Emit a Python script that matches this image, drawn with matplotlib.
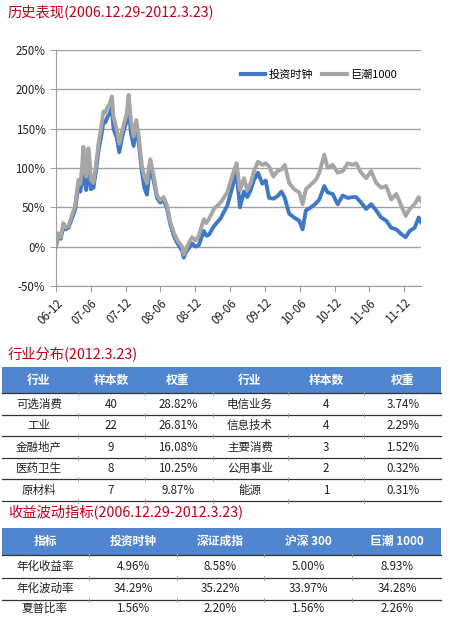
import matplotlib
matplotlib.use("Agg")
import matplotlib.pyplot as plt
from matplotlib.patches import Rectangle
from matplotlib.ticker import FuncFormatter

plt.rcParams['font.family'] = ['Noto Sans CJK SC', 'DejaVu Sans']

# ---- 历史表现 数据 (月份偏移, 自 2006.12.29 起) ----
months = [0, 0.4, 0.8, 1.27, 1.7, 2.13, 2.71, 3.29, 3.86, 4.2, 4.44, 4.73, 5.0, 5.19,
          5.59, 5.8, 6.0, 6.46, 6.92, 7.32, 7.9, 8.18, 8.5, 8.88, 9.2, 9.63, 9.91,
          10.49, 10.89, 11.36, 11.76, 12.2, 12.51, 12.91, 13.37, 13.83, 14.24, 14.81,
          15.22, 15.68, 16.0, 16.25, 16.83, 17.41, 17.98, 18.56, 19.14, 19.71, 20.29,
          20.87, 21.3, 21.73, 22.02, 22.31, 22.88, 23.46, 24.04, 24.61, 25.48, 25.9,
          26.34, 27.21, 28.36, 29.51, 30.37, 31.12, 31.7, 32.39, 32.96, 33.54, 34.12,
          34.81, 35.56, 36.13, 36.71, 37.46, 38.15, 38.84, 39.42, 40.18, 41.04, 41.91,
          42.49, 43.06, 43.93, 44.79, 45.37, 46.23, 46.81, 47.68, 48.54, 49.41, 50.27,
          51.14, 51.72, 52.58, 53.45, 54.31, 55.18, 56.04, 56.91, 57.77, 58.64, 59.5,
          60.25, 60.95, 61.81, 62.5, 62.9]

clock = [0, 14, 10, 25, 22, 24, 35, 47, 78, 70, 85, 110, 80, 72,
         105, 95, 73, 75, 98, 122, 145, 160, 158, 165, 168, 177, 150,
         138, 120, 138, 150, 160, 178, 145, 128, 150, 133, 95,
         75, 66, 88, 100, 84, 62, 56, 60, 48, 28, 14,
         5, 0, -5, -14, -8, -2, 4, 0, 2, 20, 14,
         15, 26, 36, 52, 75, 94, 50, 70, 63, 72, 85,
         94, 80, 84, 62, 61, 64, 70, 62, 42, 37, 33,
         22, 46, 50, 55, 60, 77, 69, 67, 54, 65, 62,
         63, 63, 56, 48, 54, 46, 37, 33, 24, 22, 16,
         12, 20, 24, 37, 31]

cninfo = [0, 17, 12, 30, 24, 26, 39, 52, 85, 80, 98, 127, 95, 89,
          125, 110, 85, 81, 106, 131, 157, 172, 170, 178, 180, 191, 165,
          148, 131, 146, 157, 170, 193, 161, 140, 161, 142, 102,
          89, 81, 100, 111, 90, 65, 59, 63, 52, 31, 18,
          9, 4, 0, -10, -5, 5, 12, 8, 14, 35, 30,
          35, 48, 56, 69, 90, 106, 72, 87, 72, 81, 96,
          108, 104, 106, 102, 89, 96, 98, 104, 81, 73, 69,
          54, 73, 79, 85, 94, 117, 100, 104, 94, 96, 106,
          104, 106, 94, 87, 96, 81, 75, 77, 60, 67, 52,
          39, 48, 54, 63, 58]

tick_pos = [0, 6, 12, 18, 24, 30, 36, 42, 48, 54, 60]
tick_labels = ['06-12', '07-06', '07-12', '08-06', '08-12', '09-06',
               '09-12', '10-06', '10-12', '11-06', '11-12']

# ---- 行业分布 ----
ind_left = ['可选消费', '工业', '金融地产', '医药卫生', '原材料']
cnt_left = [40, 22, 9, 8, 7]
wt_left = ['28.82%', '26.81%', '16.08%', '10.25%', '9.87%']
ind_right = ['电信业务', '信息技术', '主要消费', '公用事业', '能源']
cnt_right = [4, 4, 3, 2, 1]
wt_right = ['3.74%', '2.29%', '1.52%', '0.32%', '0.31%']
head1 = ['行业', '样本数', '权重', '行业', '样本数', '权重']

# ---- 收益波动指标 ----
head2 = ['指标', '投资时钟', '深证成指', '沪深 300', '巨潮 1000']
metrics = ['年化收益率', '年化波动率', '夏普比率']
v_clock = ['4.96%', '34.29%', '1.56%']
v_szcz = ['8.58%', '35.22%', '2.20%']
v_hs300 = ['5.00%', '33.97%', '1.56%']
v_jc1000 = ['8.93%', '34.28%', '2.26%']

BLUE = '#3F78C4'
GREY = '#A6A6A6'
RED = '#C0001A'
HEAD = '#4F86CF'
TXT = '#222222'
LINE = '#333333'

fig = plt.figure(figsize=(4.5, 6.17), dpi=100)

# ---- 折线图 ----
ax = fig.add_axes([56 / 450, 1 - 286 / 617, 365 / 450, 236 / 617])
ax.plot(months, clock, color=BLUE, lw=2.8, label='投资时钟', solid_joinstyle='round')
ax.plot(months, cninfo, color=GREY, lw=2.8, label='巨潮1000', solid_joinstyle='round')
ax.set_xlim(0, 62.9)
ax.set_ylim(-50, 250)
ax.set_yticks([-50, 0, 50, 100, 150, 200, 250])
ax.yaxis.set_major_formatter(FuncFormatter(lambda v, p: f'{v:.0f}%'))
ax.set_xticks(tick_pos)
ax.set_xticklabels(tick_labels, rotation=45, ha='right', rotation_mode='anchor')
ax.grid(axis='y', color='#A0A0A0', lw=1)
ax.set_axisbelow(True)
for s in ['top', 'right']:
    ax.spines[s].set_visible(False)
ax.spines['left'].set_color('#A0A0A0')
ax.spines['bottom'].set_color('#A0A0A0')
ax.tick_params(axis='both', colors='#A0A0A0', labelcolor=TXT, labelsize=8.3, length=4)
ax.legend(loc='center', bbox_to_anchor=(0.72, 0.894), ncol=2, frameon=False,
          fontsize=8, handlelength=2.2, columnspacing=0.8, handletextpad=0.3)
for line in ax.get_legend().get_lines():
    line.set_linewidth(3)

# ---- 表格与标题 ----
ov = fig.add_axes([0, 0, 1, 1])
ov.set_xlim(0, 450)
ov.set_ylim(617, 0)
ov.axis('off')

ov.text(8, 12, '历史表现(2006.12.29-2012.3.23)', color=RED, fontsize=10.3, va='center')
ov.text(8, 355, '行业分布(2012.3.23)', color=RED, fontsize=10.3, va='center')
ov.text(8, 513, '收益波动指标(2006.12.29-2012.3.23)', color=RED, fontsize=10.3, va='center')


def hline(y, bounds):
    ov.plot([2, 441], [y, y], color=LINE, lw=0.9)
    for b in bounds:
        ov.plot([b, b], [y - 2, y + 2], color='#9A9A9A', lw=0.6)


# 表 1
x1 = [39, 111, 178, 250, 326, 403]
b1 = [78, 145, 213, 288, 364]
ov.add_patch(Rectangle((2, 366.7), 439, 26.6, color=HEAD, lw=0))
for x, h in zip(x1, head1):
    ov.text(x, 380, h, color='white', fontsize=8.5, weight='bold', ha='center', va='center')
row_top = 393.3
row_h = 21.5
hline(row_top, b1)
for i in range(len(ind_left)):
    yc = row_top + row_h * (i + 0.5)
    cells = [ind_left[i], str(cnt_left[i]), wt_left[i],
             ind_right[i], str(cnt_right[i]), wt_right[i]]
    for x, c in zip(x1, cells):
        ov.text(x, yc, c, color=TXT, fontsize=8.3, weight='medium', ha='center', va='center')
    hline(row_top + row_h * (i + 1), b1)

# 表 2
x2 = [45, 133, 220, 308, 397]
b2 = [89, 177, 264, 352]
ov.add_patch(Rectangle((2, 528), 439, 27, color=HEAD, lw=0))
for x, h in zip(x2, head2):
    ov.text(x, 541.5, h, color='white', fontsize=8.5, weight='bold', ha='center', va='center')
row_top2 = 555
row_h2 = 22.5
hline(row_top2, b2)
for i in range(len(metrics)):
    yc = row_top2 + row_h2 * (i + 0.5)
    if i == 2:
        yc = 608
    cells = [metrics[i], v_clock[i], v_szcz[i], v_hs300[i], v_jc1000[i]]
    for x, c in zip(x2, cells):
        ov.text(x, yc, c, color=TXT, fontsize=8.3, weight='medium', ha='center', va='center')
    if i < 2:
        hline(row_top2 + row_h2 * (i + 1), b2)

fig.savefig('out.png', dpi=100)
